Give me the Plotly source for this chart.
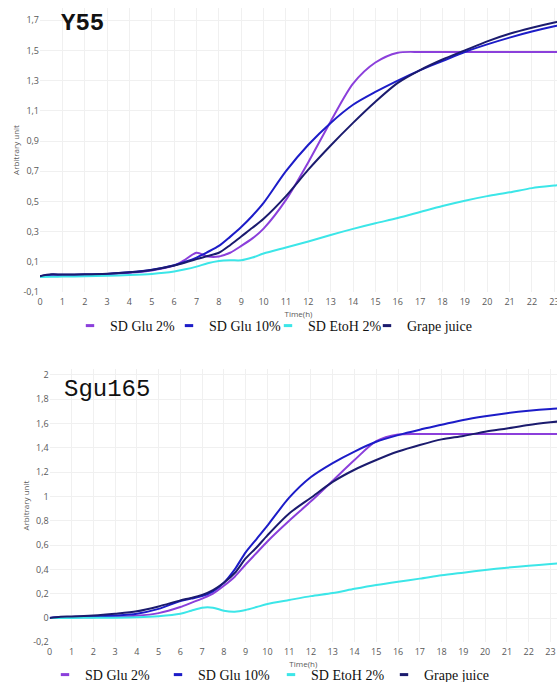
import plotly.graph_objects as go

# Sampling times (hours)
time_h = [0, 0.5, 1, 2, 3, 4, 5, 6, 6.5, 7, 7.5, 8, 8.5, 9, 9.5, 10,
          11, 12, 13, 14, 15, 16, 17, 18, 19, 20, 21, 22, 23, 23.5]

series_names = ["SD Glu 2%", "SD Glu 10%", "SD EtoH 2%", "Grape juice"]
series_colors = ["#8B3FDB", "#1C1CC8", "#3CE6E8", "#1B1B6E"]

# Y55 growth curves (arbitrary units)
y55_glu2 = [0.005, 0.012, 0.012, 0.014, 0.018, 0.027, 0.043, 0.075, 0.115, 0.16, 0.135, 0.135, 0.16, 0.205, 0.255, 0.32,
            0.51, 0.76, 1.03, 1.28, 1.42, 1.485, 1.49, 1.49, 1.49, 1.49, 1.49, 1.49, 1.49, 1.49]
y55_glu10 = [0.005, 0.015, 0.014, 0.016, 0.02, 0.03, 0.047, 0.077, 0.1, 0.128, 0.165, 0.205, 0.265, 0.33, 0.405, 0.49,
             0.70, 0.875, 1.02, 1.14, 1.225, 1.30, 1.37, 1.43, 1.49, 1.54, 1.585, 1.625, 1.66, 1.675]
y55_etoh2 = [0.0, 0.001, 0.002, 0.004, 0.007, 0.012, 0.02, 0.036, 0.05, 0.068, 0.09, 0.105, 0.11, 0.11, 0.128, 0.155,
             0.195, 0.235, 0.278, 0.318, 0.355, 0.39, 0.43, 0.47, 0.505, 0.535, 0.56, 0.588, 0.605, 0.612]
y55_grape = [0.005, 0.017, 0.016, 0.017, 0.021, 0.03, 0.046, 0.075, 0.095, 0.118, 0.138, 0.16, 0.21, 0.268, 0.325, 0.385,
             0.535, 0.71, 0.87, 1.02, 1.16, 1.285, 1.37, 1.44, 1.50, 1.56, 1.61, 1.65, 1.685, 1.70]

# Sgu165 growth curves (arbitrary units)
sgu_glu2 = [0.0, 0.004, 0.005, 0.007, 0.01, 0.018, 0.04, 0.09, 0.125, 0.16, 0.2, 0.265, 0.34, 0.44, 0.535, 0.63,
            0.80, 0.96, 1.13, 1.30, 1.455, 1.51, 1.515, 1.515, 1.515, 1.515, 1.515, 1.515, 1.515, 1.515]
sgu_glu10 = [0.0, 0.008, 0.009, 0.012, 0.02, 0.035, 0.075, 0.14, 0.16, 0.18, 0.22, 0.29, 0.4, 0.54, 0.65, 0.76,
             0.99, 1.16, 1.275, 1.37, 1.45, 1.505, 1.55, 1.59, 1.63, 1.66, 1.685, 1.705, 1.72, 1.725]
sgu_etoh2 = [0.0, 0.0, 0.001, 0.002, 0.003, 0.006, 0.015, 0.035, 0.06, 0.085, 0.085, 0.06, 0.052, 0.066, 0.09, 0.115,
             0.148, 0.18, 0.205, 0.24, 0.272, 0.299, 0.324, 0.351, 0.373, 0.395, 0.414, 0.43, 0.444, 0.45]
sgu_grape = [0.0, 0.01, 0.012, 0.02, 0.035, 0.055, 0.095, 0.145, 0.165, 0.19, 0.23, 0.29, 0.37, 0.49, 0.58, 0.68,
             0.86, 0.99, 1.12, 1.22, 1.30, 1.37, 1.424, 1.47, 1.498, 1.533, 1.56, 1.588, 1.61, 1.62]

x_ticks = list(range(0, 24))
y55_ticks = [-0.1, 0.1, 0.3, 0.5, 0.7, 0.9, 1.1, 1.3, 1.5, 1.7]
sgu_ticks = [-0.2, 0, 0.2, 0.4, 0.6, 0.8, 1, 1.2, 1.4, 1.6, 1.8, 2]


def comma(v):
    return f"{v:g}".replace(".", ",")


W, H = 557, 682
fig = go.Figure()

panels = [
    ("x", "y", "legend", [y55_glu2, y55_glu10, y55_etoh2, y55_grape]),
    ("x2", "y2", "legend2", [sgu_glu2, sgu_glu10, sgu_etoh2, sgu_grape]),
]
for xa, ya, lg, data in panels:
    for name, color, vals in zip(series_names, series_colors, data):
        fig.add_trace(go.Scatter(
            x=time_h, y=vals, mode="lines", name=name, xaxis=xa, yaxis=ya,
            line=dict(color=color, width=2, shape="spline", smoothing=0.8),
            legendgroup=lg + name, showlegend=False,
        ))
    # short dash keys for the legend
    for name, color in zip(series_names, series_colors):
        fig.add_trace(go.Scatter(
            x=[None], y=[None], mode="markers", name=name, xaxis=xa, yaxis=ya,
            marker=dict(symbol="line-ew-open", size=6, color=color, line=dict(color=color, width=3)),
            legendgroup=lg + name, showlegend=True, legend=lg,
        ))

# empty trailing entry so the last label of the narrow-spaced top legend is not clipped
fig.add_trace(go.Scatter(x=[None], y=[None], mode="markers", name=" ", xaxis="x", yaxis="y",
                         marker=dict(color="rgba(0,0,0,0)", size=1), hoverinfo="skip",
                         showlegend=True, legend="legend"))

tick_font = dict(family="Open Sans, sans-serif", size=9, color="#595959")
title_font = dict(family="Open Sans, sans-serif", size=8, color="#595959")
grid = "#f0f0f0"

common_x = dict(tickmode="array", tickvals=x_ticks, ticktext=[str(v) for v in x_ticks],
                showgrid=True, gridcolor=grid, gridwidth=1, zeroline=False, showline=False,
                tickfont=tick_font, ticks="", ticklabelstandoff=3, ticklabeloverflow="allow",
                title=dict(text="Time(h)", font=title_font, standoff=0))
common_y = dict(showgrid=True, gridcolor=grid, gridwidth=1, zeroline=False, showline=False,
                tickfont=tick_font, ticks="",
                title=dict(text="Arbitrary unit", font=title_font, standoff=2))

legend_font = dict(family="Liberation Serif, serif", size=14, color="#111")

fig.update_layout(
    width=W, height=H,
    margin=dict(l=0, r=0, t=0, b=0, autoexpand=False),
    paper_bgcolor="white", plot_bgcolor="white",
    xaxis=dict(common_x, domain=[40 / W, 1], range=[0, 517 / 22.36], anchor="y"),
    yaxis=dict(common_y, domain=[(H - 292) / H, (H - 8) / H], range=[-0.1, 1.781], anchor="x",
               tickvals=y55_ticks, ticktext=[comma(v) for v in y55_ticks]),
    xaxis2=dict(common_x, domain=[49.7 / W, 1], range=[0, 507.3 / 21.77], anchor="y2"),
    yaxis2=dict(common_y, domain=[(H - 642.3) / H, (H - 368.9) / H], range=[-0.2, 2.05], anchor="x2",
                tickvals=sgu_ticks, ticktext=[comma(v) for v in sgu_ticks]),
    legend=dict(orientation="h", x=70 / W, xanchor="left", y=(H - 326) / H, yanchor="middle",
                font=legend_font, itemwidth=30, entrywidth=54, bgcolor="rgba(0,0,0,0)"),
    legend2=dict(orientation="h", x=45 / W, xanchor="left", y=(H - 675) / H, yanchor="middle",
                 font=legend_font, itemwidth=30, entrywidth=68, bgcolor="rgba(0,0,0,0)"),
    annotations=[
        dict(text="<b>Y55</b>", x=59 / W, y=(H - 24) / H, xref="paper", yref="paper",
             xanchor="left", yanchor="middle", showarrow=False,
             font=dict(family="Liberation Mono, monospace", size=24, color="#111")),
        dict(text="Sgu165", x=62 / W, y=(H - 390) / H, xref="paper", yref="paper",
             xanchor="left", yanchor="middle", showarrow=False,
             font=dict(family="Liberation Mono, monospace", size=24, color="#111")),
    ],
)

fig.write_html("out.html")
